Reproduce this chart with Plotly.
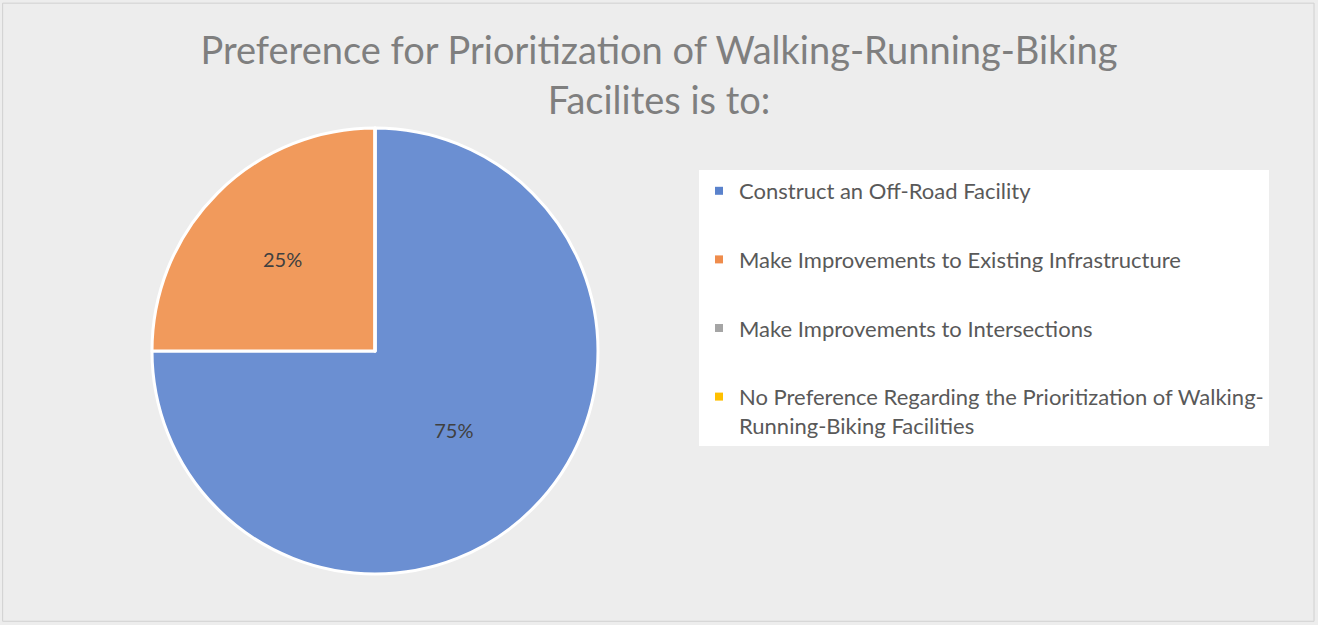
import plotly.graph_objects as go

# ---- data ----
categories = [
    "Construct an Off-Road Facility",
    "Make Improvements to Existing Infrastructure",
    "Make Improvements to Intersections",
    "No Preference Regarding the Prioritization of Walking-<br>Running-Biking Facilities",
]
shares = [75, 25, 0, 0]
slice_colors = ["#6B8FD2", "#F19A5C", "#A5A5A5", "#FFC000"]
legend_colors = ["#5A82CC", "#EF8C4C", "#A5A5A5", "#FFC000"]
title_text = "Preference for Prioritization of Walking-Running-Biking<br>Facilites is to:"

W, H = 1318, 625

fig = go.Figure()

fig.add_trace(go.Pie(
    labels=categories,
    values=shares,
    sort=False,
    direction="clockwise",
    rotation=0,
    marker=dict(colors=slice_colors, line=dict(color="white", width=3)),
    textinfo="percent",
    texttemplate="%{percent:.0%}",
    textposition="inside",
    insidetextorientation="horizontal",
    textfont=dict(family="Lato", size=20, color="#404040"),
    showlegend=False,
    domain=dict(x=[(375 - 223) / W, (375 + 223) / W], y=[(274 - 223) / H, (274 + 223) / H]),
    hoverinfo="label+percent",
))

# legend entries (one per category)
for cat, col in zip(categories, legend_colors):
    fig.add_trace(go.Scatter(
        x=[None], y=[None], mode="markers", name=cat,
        marker=dict(symbol="square", size=8, color=col),
        legendgroup=cat, showlegend=True,
    ))

fig.update_layout(
    width=W, height=H,
    margin=dict(l=0, r=0, t=0, b=0),
    paper_bgcolor="#EDEDED",
    plot_bgcolor="rgba(0,0,0,0)",
    xaxis=dict(visible=False),
    yaxis=dict(visible=False),
    title=dict(
        text=title_text,
        x=0.5, xanchor="center",
        y=0.897, yanchor="top", yref="container",
        font=dict(family="Lato", size=38, color="#7F7F7F"),
    ),
    legend=dict(
        x=699 / W, xanchor="left",
        y=1 - 170 / H, yanchor="top",
        bgcolor="white",
        font=dict(family="Lato", size=22, color="#595959"),
        tracegroupgap=37,
        valign="top",
        itemwidth=30,
    ),
    shapes=[dict(type="rect", xref="paper", yref="paper", x0=0.002, x1=0.997, y0=0.006, y1=0.995,
                 line=dict(color="#D0D0D0", width=1), fillcolor="rgba(0,0,0,0)", layer="below")],
)

fig.write_html("out.html", config={"displayModeBar": False},
               post_script="document.body.style.margin='0px';")
